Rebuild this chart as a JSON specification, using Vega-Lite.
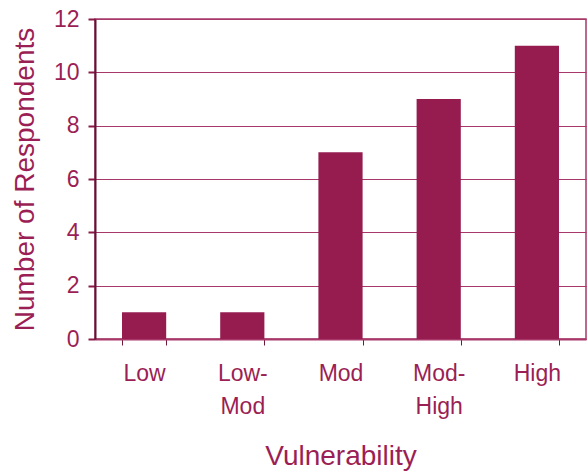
{
  "$schema": "https://vega.github.io/schema/vega-lite/v6.json",
  "width": 491,
  "height": 320,
  "autosize": {"type": "none"},
  "padding": {"left": 95, "top": 19, "right": 1, "bottom": 133},
  "config": {
    "font": "Liberation Sans",
    "view": {"stroke": "#A8386A", "strokeWidth": 1.5}
  },
  "data": {
    "values": [
      {"category": "Low", "count": 1},
      {"category": "Low-Mod", "count": 1},
      {"category": "Mod", "count": 7},
      {"category": "Mod-High", "count": 9},
      {"category": "High", "count": 11}
    ]
  },
  "mark": {"type": "bar", "color": "#961C50"},
  "encoding": {
    "x": {
      "field": "category",
      "type": "nominal",
      "sort": null,
      "scale": {"paddingInner": 0.55, "paddingOuter": 0.275},
      "axis": {
        "title": "Vulnerability",
        "titleFontSize": 28,
        "titleFontWeight": "normal",
        "titleColor": "#9B1F55",
        "titlePadding": 24,
        "labelAngle": 0,
        "labelFontSize": 23,
        "labelColor": "#9B1F55",
        "labelPadding": 17,
        "labelLineHeight": 33,
        "labelExpr": "split(replace(datum.label, '-', '-|'), '|')",
        "tickBand": "extent",
        "tickSize": 6,
        "tickColor": "#6B1A3A",
        "domainColor": "#A8386A",
        "domainWidth": 2
      }
    },
    "y": {
      "field": "count",
      "type": "quantitative",
      "scale": {"domain": [0, 12]},
      "axis": {
        "title": "Number of Respondents",
        "titleFontSize": 28,
        "titleFontWeight": "normal",
        "titleColor": "#9B1F55",
        "titlePadding": 14,
        "values": [0, 2, 4, 6, 8, 10, 12],
        "labelFontSize": 23,
        "labelColor": "#9B1F55",
        "labelPadding": 9,
        "tickSize": 7,
        "tickColor": "#8B1A48",
        "tickWidth": 2,
        "domainColor": "#5E1535",
        "domainWidth": 2,
        "gridColor": "#A8386A",
        "gridOpacity": 1,
        "gridWidth": 1
      }
    }
  }
}
